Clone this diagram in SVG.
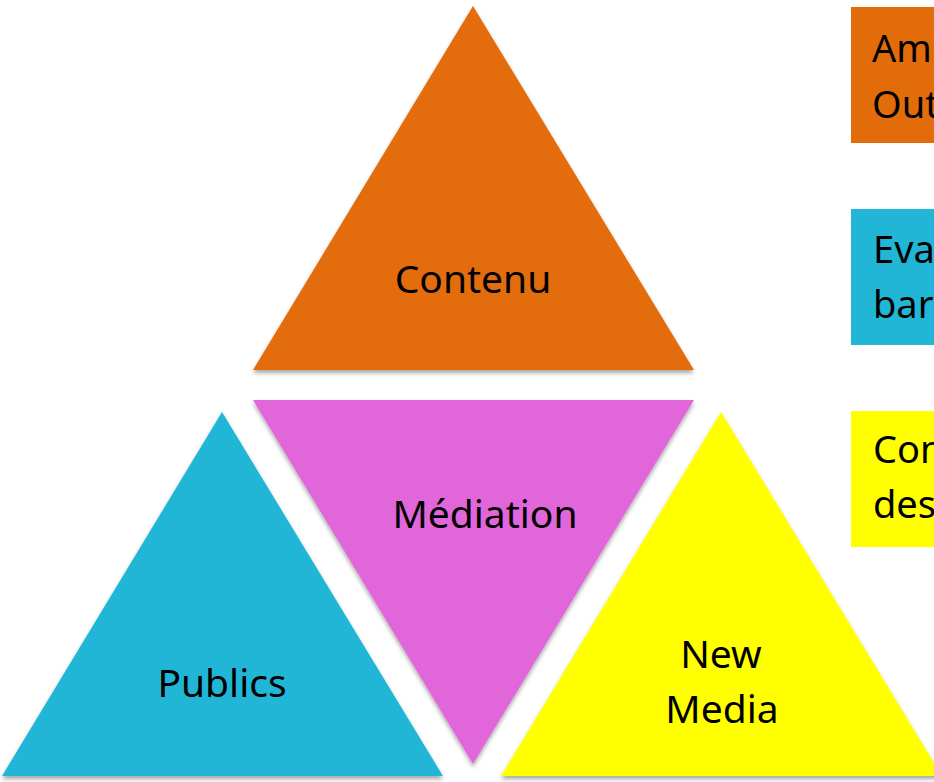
<svg xmlns="http://www.w3.org/2000/svg" width="934" height="782" viewBox="0 0 934 782">
  <defs>
    <filter id="shadow" x="-10%" y="-10%" width="120%" height="120%">
      <feDropShadow dx="0" dy="3" stdDeviation="2" flood-color="#000" flood-opacity="0.35"/>
    </filter>
  </defs>
  <style>
    .tri { filter: url(#shadow); }
    .lbl { font-family: "Noto Sans", "Open Sans", "Liberation Sans", sans-serif; font-size: 39px; fill: #000; text-anchor: middle; }
    .side { font-family: "Noto Sans", "Open Sans", "Liberation Sans", sans-serif; font-size: 38px; fill: #000; }
    .orange { fill: #E36C0A; }
    .magenta { fill: #E066DA; }
    .blue { fill: #21B6D6; }
    .yellow { fill: #FFFF00; }
  </style>
  <rect width="934" height="782" fill="#FFFFFF"/>

  <g id="contenu">
    <polygon class="tri orange" points="473,6 694,370 253,370"/>
    <text class="lbl" x="473" y="293">Contenu</text>
  </g>
  <g id="mediation">
    <polygon class="tri magenta" points="253,400 694,400 473,764"/>
    <text class="lbl" x="485" y="528">Médiation</text>
  </g>
  <g id="publics">
    <polygon class="tri blue" points="222,412 443,776 2,776"/>
    <text class="lbl" x="222" y="697">Publics</text>
  </g>
  <g id="new-media">
    <polygon class="tri yellow" points="721,412 942,776 501,776"/>
    <text class="lbl" x="721" y="668">New</text>
    <text class="lbl" x="722" y="723">Media</text>
  </g>

  <g id="legend-orange">
    <rect class="orange" x="851" y="7" width="100" height="136"/>
    <text class="side" x="872" y="62">Am</text>
    <text class="side" x="872" y="118">Out</text>
  </g>
  <g id="legend-blue">
    <rect class="blue" x="851" y="209" width="100" height="136"/>
    <text class="side" x="873" y="263">Eva</text>
    <text class="side" x="873" y="318">bar</text>
  </g>
  <g id="legend-yellow">
    <rect class="yellow" x="851" y="411" width="100" height="136"/>
    <text class="side" x="873" y="463">Con</text>
    <text class="side" x="873" y="518">des</text>
  </g>
</svg>
